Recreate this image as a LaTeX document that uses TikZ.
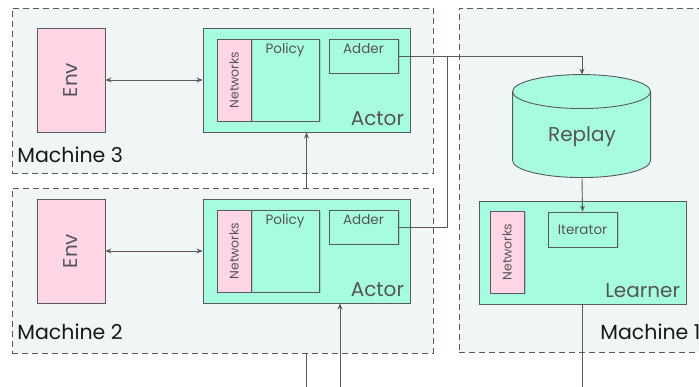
\documentclass[tikz,border=0pt]{standalone}
\usepackage{fontspec}
\setmainfont{Poppins}
\usetikzlibrary{shadows,arrows.meta}
\definecolor{mint}{RGB}{167,252,224}
\definecolor{pinkbox}{RGB}{255,214,229}
\definecolor{machinebg}{RGB}{240,245,245}
\definecolor{linegray}{RGB}{90,90,90}
\definecolor{textgray}{RGB}{85,85,85}
\begin{document}
\begin{tikzpicture}[x=1pt,y=-1pt,line width=0.9pt,
  >={Stealth[length=6pt,width=5pt]},
  machine/.style={draw=linegray,dashed,dash pattern=on 6pt off 4pt,fill=machinebg,inner sep=0pt},
  unit/.style={draw=linegray,fill=mint,inner sep=0pt},
  part/.style={draw=linegray,fill=mint,inner sep=0pt,drop shadow={shadow xshift=1.5pt,shadow yshift=-1.5pt,opacity=0.3}},
  net/.style={draw=linegray,fill=pinkbox,inner sep=0pt,rotate=90,minimum width=82,minimum height=34,
    text=textgray,font=\fontsize{12.5}{14}\selectfont,drop shadow={shadow xshift=1.5pt,shadow yshift=-1.5pt,opacity=0.3}},
  env/.style={draw=linegray,fill=pinkbox,inner sep=0pt,rotate=90,minimum width=104,minimum height=68,
    text=textgray,font=\fontsize{20}{24}\selectfont},
  corner/.style={label={[anchor=south east,inner sep=6pt,text=textgray,font=\fontsize{20}{24}\selectfont]south east:#1}},
  top/.style={label={[anchor=north,inner sep=4.5pt,text=textgray,font=\fontsize{13.5}{15}\selectfont]north:#1}},
  mlabel/.style={anchor=base west,inner sep=0pt,text=black!90,font=\fontsize{20.5}{24}\selectfont},
  link/.style={draw=linegray}]
\useasboundingbox (0,0) rectangle (699,387);

% machine 3
\node[machine,minimum width=421,minimum height=165] (m3) at (222.5,90.5) {};
\node[mlabel] (m3lbl) at (17,163) {Machine 3};
\node[env] (env3) at (71,80) {Env};
\node[unit,minimum width=207,minimum height=104,corner=Actor] (actor3) at (306.5,80) {};
\node[part,minimum width=68,minimum height=82,top=Policy] (policy3) at (285,80) {};
\node[net] (net3) at (234,80) {Networks};
\node[part,minimum width=69,minimum height=34,top=Adder] (adder3) at (363.5,56) {};
\path[link,<->] (env3.south) -- (actor3.west);

\coordinate (in3) at (306.5,392);
\path[link,->] (in3) -- (actor3.south);

% machine 2
\node[machine,minimum width=421,minimum height=165] (m2) at (222.5,270.5) {};
\node[mlabel] (m2lbl) at (17,340) {Machine 2};
\node[env] (env2) at (71,251) {Env};
\node[unit,minimum width=207,minimum height=104,corner=Actor] (actor2) at (306.5,251) {};
\node[part,minimum width=68,minimum height=82,top=Policy] (policy2) at (285,251) {};
\node[net] (net2) at (234,251) {Networks};
\node[part,minimum width=69,minimum height=34,top=Adder] (adder2) at (363.5,227) {};
\path[link,<->] (env2.south) -- (actor2.west);

\coordinate (in2) at (340,392);
\path[link,->] (in2) -- (in2 |- actor2.south);

% machine 1
\node[machine,minimum width=300,minimum height=344] (m1) at (609,180) {};
\node[mlabel] (m1lbl) at (600,340) {Machine 1};
% replay drum
\node[inner sep=0pt,minimum width=138,minimum height=103] (replay) at (582,126.5) {};
\path[unit] (replay.north west) ++(0,17) -- ++(0,69)
  arc[start angle=180,end angle=0,x radius=69,y radius=17] -- ++(0,-69)
  arc[start angle=0,end angle=-180,x radius=69,y radius=17] -- cycle;
\path[link] (replay.north west) ++(0,17) arc[start angle=180,end angle=0,x radius=69,y radius=17];
\node[text=textgray,font=\fontsize{20}{24}\selectfont,yshift=-10.5pt] (replaytxt) at (replay.center) {Replay};
\node[unit,minimum width=207,minimum height=103,corner=Learner] (learner) at (582.5,252.5) {};
\node[net] (netL) at (507,252) {Networks};
\node[part,minimum width=69,minimum height=35,text=textgray,font=\fontsize{13.5}{15}\selectfont] (iter) at (582.5,229.5) {Iterator};
\coordinate (out) at (582.5,392);
\path[link] (learner.south) -- (out);
\path[link,->] (replay.south) -- (iter.north);

% adders to replay
\coordinate (join) at (447,56);
\path[link,->] (adder3.east) -| (replay.north);
\path[link] (adder2.east) -| (join);
\end{tikzpicture}
\end{document}
